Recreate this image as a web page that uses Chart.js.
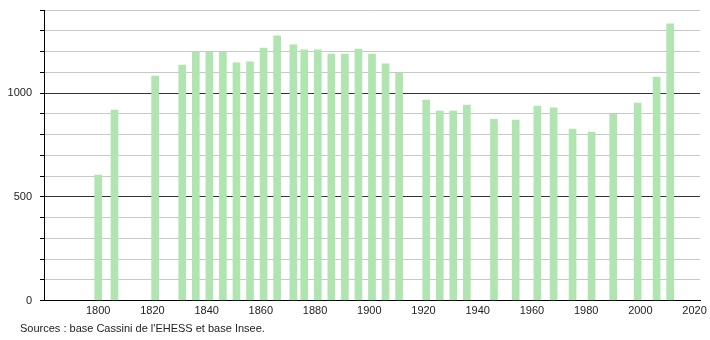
<!DOCTYPE html>
<html>
<head>
<meta charset="utf-8">
<script src="https://cdn.jsdelivr.net/npm/chart.js@4"></script>
<style>
  body { margin: 0; background: #fff; }
  #wrap { position: relative; width: 710px; height: 340px; }
  #source { position: absolute; left: 20px; top: 322px; font: 11px "Liberation Sans", Arial, sans-serif; color: #222; }
</style>
</head>
<body>
<div id="wrap">
  <canvas id="chart" width="710" height="340"></canvas>
  <div id="source">Sources : base Cassini de l'EHESS et base Insee.</div>
</div>
<script>
// === Data ===
const years = [1800, 1806, 1821, 1831, 1836, 1841, 1846, 1851, 1856, 1861, 1866, 1872, 1876, 1881, 1886, 1891, 1896, 1901, 1906, 1911,
  1921, 1926, 1931, 1936, 1946, 1954, 1962, 1968, 1975, 1982, 1990, 1999, 2006, 2011];
const population = [604, 918, 1082, 1135, 1196, 1196, 1196, 1146, 1150, 1217, 1275, 1232, 1208, 1208, 1188, 1188, 1212, 1188, 1140, 1095,
  966, 913, 913, 942, 873, 870, 937, 928, 826, 812, 897, 952, 1077, 1333];
const yLabels = [0, 500, 1000];
const xLabels = [1800, 1820, 1840, 1860, 1880, 1900, 1920, 1940, 1960, 1980, 2000, 2020];

const font = { family: '"Liberation Sans", Arial, sans-serif', size: 11 };

new Chart(document.getElementById('chart'), {
  type: 'bar',
  data: {
    datasets: [{
      data: years.map((y, i) => ({ x: y, y: population[i] })),
      backgroundColor: 'rgb(176,228,176)',
      borderWidth: 0,
      barThickness: 7
    }]
  },
  options: {
    responsive: false,
    animation: false,
    layout: { padding: { top: 10, right: 10, left: 0, bottom: 0 } },
    plugins: { legend: { display: false }, tooltip: { enabled: false } },
    scales: {
      x: {
        type: 'linear',
        offset: false,
        min: 1780,
        max: 2022,
        grid: { display: false, drawTicks: false },
        border: { color: '#000', width: 1 },
        afterBuildTicks: s => { s.ticks = xLabels.map(v => ({ value: v })); },
        ticks: {
          autoSkip: false,
          maxRotation: 0,
          padding: 4,
          color: '#222',
          font,
          callback: v => String(v)
        },
        afterFit: s => { s.height = 39.5; s.paddingLeft = 0; s.paddingRight = 0; }
      },
      y: {
        min: 0,
        max: 1400,
        grid: {
          color: c => (c.tick && c.tick.value % 500 === 0) ? '#333' : '#c8c8c8',
          tickColor: '#000',
          tickLength: 4
        },
        border: { color: '#000', width: 1 },
        ticks: {
          stepSize: 100,
          autoSkip: false,
          padding: 8,
          color: '#222',
          font,
          callback: v => yLabels.includes(v) ? String(v) : ''
        },
        afterFit: s => { s.width = 44; s.paddingTop = 0; s.paddingBottom = 0; }
      }
    }
  }
});
</script>
</body>
</html>
